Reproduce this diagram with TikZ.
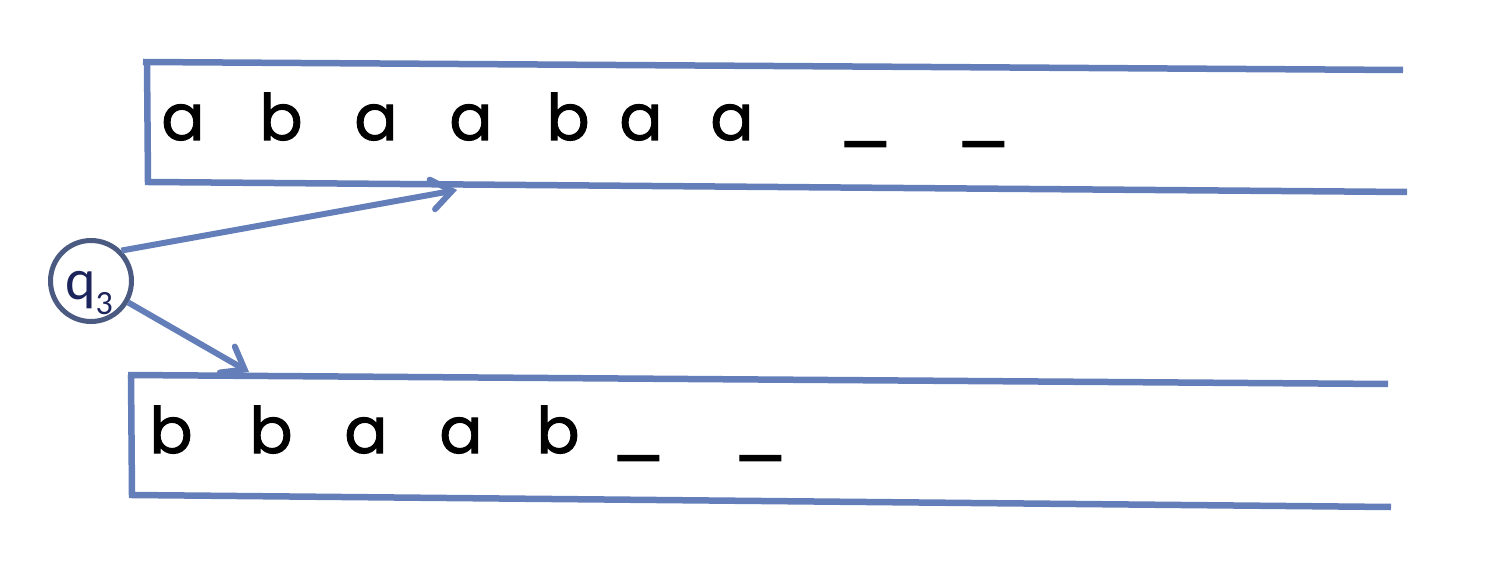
\documentclass[tikz,border=0pt]{standalone}
\usepackage{fontspec}
\newfontfamily\symfont{Poppins}[FakeBold=1.6]
\newfontfamily\qfont{Carlito}
\usetikzlibrary{arrows.meta}
\definecolor{tapeblue}{RGB}{99,126,184}
\definecolor{circgray}{RGB}{74,90,128}
\definecolor{qnavy}{RGB}{28,36,92}
\tikzset{
  tapeline/.style={draw=tapeblue, line width=6.5pt, line join=miter},
  sym/.style={anchor=base, inner sep=0pt, font=\symfont\fontsize{64}{64}\selectfont},
  blank/.style={anchor=base, inner sep=0pt, font=\symfont\fontsize{64}{64}\selectfont},
  headarrow/.style={draw=tapeblue, line width=6pt, -{Straight Barb[length=20pt,width=30pt,line cap=round]}},
  statecirc/.style={circle, draw=circgray, line width=5pt, minimum size=81pt, inner sep=0pt}
}
\begin{document}
\begin{tikzpicture}[x=1pt,y=-1pt]
\useasboundingbox (0,0) rectangle (1492,569);
% top tape
\coordinate (t1) at (1403,70);
\coordinate (t2) at (143,62);
\coordinate (t3) at (147,62);
\coordinate (t4) at (148,182);
\coordinate (t5) at (1407,192);
\draw[tapeline] (t1) -- (t2);
\draw[tapeline] (t3) -- (t4) -- (t5);
% bottom tape
\coordinate (b1) at (1388,384);
\coordinate (b2) at (128,375);
\coordinate (b3) at (131,375);
\coordinate (b4) at (132,495);
\coordinate (b5) at (1391,507);
\draw[tapeline] (b1) -- (b2);
\draw[tapeline] (b3) -- (b4) -- (b5);
% top symbols
\node[sym] (ta1) at (183,140) {a};
\node[sym] (ta2) at (281,140) {b};
\node[sym] (ta3) at (376,140) {a};
\node[sym] (ta4) at (471,140) {a};
\node[sym] (ta5) at (568,140) {b};
\node[sym] (ta6) at (641,140) {a};
\node[sym] (ta7) at (732,140) {a};
\node[blank] (ta8) at (865,139) {\scalebox{1.2}[1]{\_}};
\node[blank] (ta9) at (983,139) {\scalebox{1.2}[1]{\_}};
% bottom symbols
\node[sym] (ba1) at (171,453) {b};
\node[sym] (ba2) at (271,453) {b};
\node[sym] (ba3) at (366,453) {a};
\node[sym] (ba4) at (461,453) {a};
\node[sym] (ba5) at (558,453) {b};
\node[blank] (ba6) at (638,453) {\scalebox{1.2}[1]{\_}};
\node[blank] (ba7) at (760,453) {\scalebox{1.2}[1]{\_}};
% state
\node[statecirc] (q) at (91,281) {};
\node[anchor=base west, inner sep=0pt, text=qnavy, font=\qfont\fontsize{58}{58}\selectfont] (ql) at (65,300) {q\raisebox{-15pt}{\fontsize{34}{34}\selectfont 3}};
\coordinate (h1) at (457,190);
\coordinate (h2) at (249,372);
\draw[headarrow] (q.45) -- (h1);
\draw[headarrow] (q.-30) -- (h2);
\end{tikzpicture}
\end{document}
